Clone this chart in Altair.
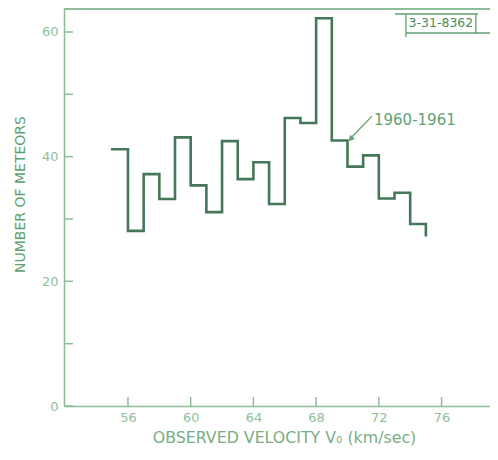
import altair as alt
import pandas as pd

# Histogram of observed meteor velocities (step outline), bin edges in km/sec
vel_edges = [55, 56, 57, 58, 59, 60, 61, 62, 63, 64, 65, 66, 67, 68, 69, 70, 71, 72, 73, 74, 75]
counts = [41.2, 28.1, 37.2, 33.2, 43.1, 35.4, 31.1, 42.5, 36.4, 39.1, 32.4,
          46.2, 45.4, 62.2, 42.6, 38.4, 40.2, 33.3, 34.2, 29.2, 27.4]

x_tick_vals = [56, 60, 64, 68, 72, 76]
y_tick_vals = [0, 10, 20, 30, 40, 50, 60]
y_label_vals = [0, 20, 40, 60]

series_label = "1960-1961"
stamp_label = "3-31-8362"

W, H = 426, 398
X_DOM = [51.92, 79.09]
Y_DOM = [0, 63.85]

LINE = "#46775a"
AXIS = "#8dbd98"
LABEL = "#8fbf99"
TITLE_Y = "#5f9f6f"
TITLE_X = "#79ad86"
ANNOT = "#63a273"
FONT = "DejaVu Sans"

xs = alt.Scale(domain=X_DOM, nice=False, zero=False)
ys = alt.Scale(domain=Y_DOM, nice=False, zero=False)

x_axis = alt.Axis(
    values=x_tick_vals, format="d", ticks=False, grid=False,
    domainColor=AXIS, domainWidth=1.5,
    labelFont=FONT, labelFontSize=13, labelColor=LABEL, labelPadding=5,
    title="OBSERVED VELOCITY V₀ (km/sec)", titleFont=FONT, titleFontSize=15.8,
    titleFontWeight="normal", titleColor=TITLE_X,
    titleX=220, titleY=36, titleAlign="center", titleBaseline="alphabetic")
y_axis = alt.Axis(
    values=y_label_vals, format="d", ticks=False, grid=False,
    domainColor=AXIS, domainWidth=1.5,
    labelFont=FONT, labelFontSize=13, labelColor=LABEL, labelPadding=6,
    title="NUMBER OF METEORS", titleFont=FONT, titleFontSize=14,
    titleFontWeight="normal", titleColor=TITLE_Y,
    titleX=-44, titleY=186, titleAlign="center", titleBaseline="middle")

hist = pd.DataFrame({"x": vel_edges, "y": counts})
yt = pd.DataFrame({"y": y_tick_vals})
xt = pd.DataFrame({"x": x_tick_vals})


def X(field="x"):
    return alt.X(f"{field}:Q", scale=xs, axis=x_axis)


def Y(field="y"):
    return alt.Y(f"{field}:Q", scale=ys, axis=y_axis)


step = alt.Chart(hist).mark_line(
    interpolate="step-after", color=LINE, strokeWidth=2.6, strokeJoin="miter", strokeCap="square"
).encode(x=X(), y=Y())

top_border = alt.Chart(hist).mark_rule(color=AXIS, strokeWidth=1.5).encode(
    x=alt.value(0), x2=alt.value(W), y=alt.value(0.5)
)

y_ticks = alt.Chart(yt).mark_rule(color=AXIS, strokeWidth=1.5).encode(
    y=Y(), x=alt.value(0), x2=alt.value(9)
)
x_ticks = alt.Chart(xt).mark_rule(color=AXIS, strokeWidth=1.5).encode(
    x=X(), y=alt.value(H), y2=alt.value(H - 9)
)

# annotation: series label with arrow
ann = pd.DataFrame({"x": [71.69], "y": [45.9], "txt": [series_label]})
ann_text = alt.Chart(ann).mark_text(
    align="left", baseline="middle", font=FONT, fontSize=15, color=ANNOT
).encode(x=X(), y=Y(), text="txt:N")

arrow = pd.DataFrame({"x": [71.56], "y": [46.5], "x2": [70.3], "y2": [43.2]})
arrow_line = alt.Chart(arrow).mark_rule(color=ANNOT, strokeWidth=1.3).encode(
    x=X(), y=Y(), x2="x2:Q", y2="y2:Q"
)
head = pd.DataFrame({"x": [70.24], "y": [42.95]})
arrow_head = alt.Chart(head).mark_point(
    shape="triangle", filled=True, color=ANNOT, size=45, angle=220, opacity=1
).encode(x=X(), y=Y())

# drawing-number stamp box
box = pd.DataFrame({
    "x": [73.03, 73.73, 78.19, 73.73],
    "x2": [78.32, 73.73, 78.19, 79.09],
    "y": [62.89, 62.89, 62.89, 59.84],
    "y2": [62.89, 59.2, 59.84, 59.84],
})
box_lines = alt.Chart(box).mark_rule(color=TITLE_Y, strokeWidth=1.3).encode(
    x=X(), x2="x2:Q", y=Y(), y2="y2:Q"
)
stamp = pd.DataFrame({"x": [75.96], "y": [61.37], "txt": [stamp_label]})
stamp_text = alt.Chart(stamp).mark_text(
    align="center", baseline="middle", font=FONT, fontSize=12.5, color="#4a8c5b"
).encode(x=X(), y=Y(), text="txt:N")

chart = alt.layer(
    step, top_border, y_ticks, x_ticks, arrow_line, arrow_head, ann_text, box_lines, stamp_text
).properties(
    width=W, height=H,
    autosize=alt.AutoSizeParams(type="none"),
    padding={"left": 56, "top": 0, "right": 0, "bottom": 42},
    background="white",
).configure_view(stroke=None)

chart.save("out.html", embed_options={"renderer": "svg", "actions": False})
